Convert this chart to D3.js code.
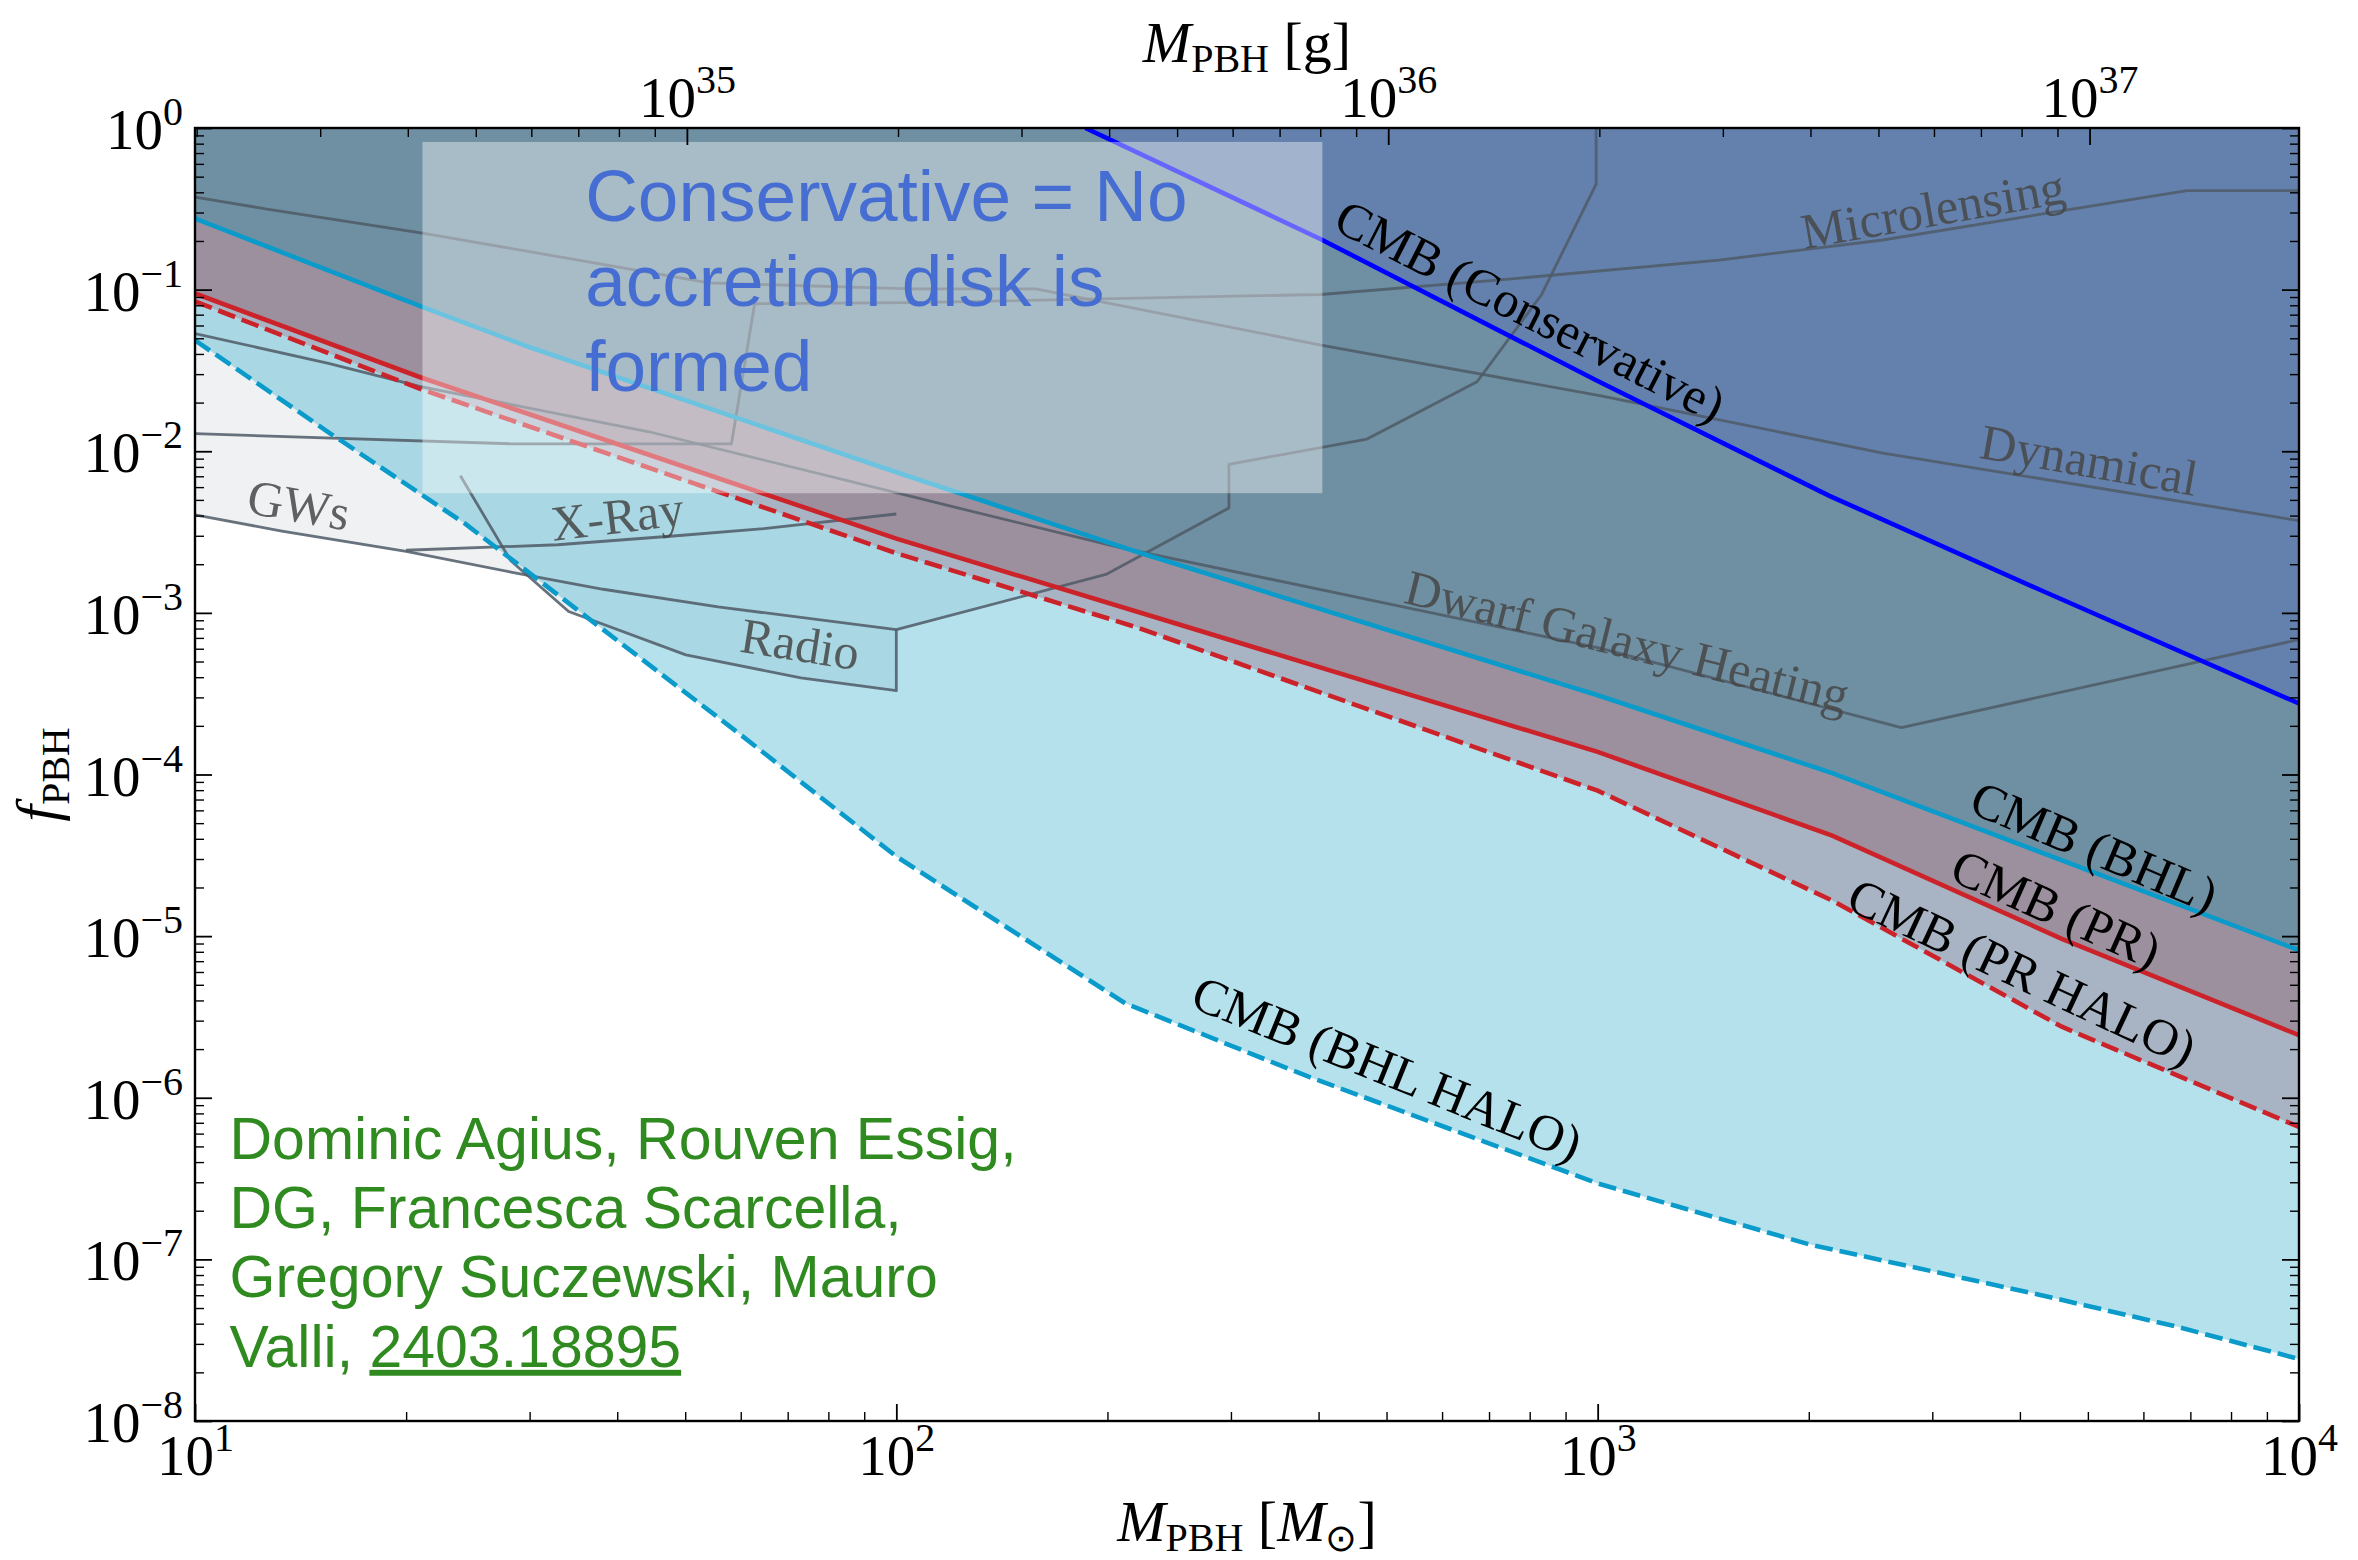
<!DOCTYPE html>
<html><head><meta charset="utf-8">
<script src="https://cdn.jsdelivr.net/npm/d3@7"></script>
<style>
html,body{margin:0;padding:0;background:#fff;}
svg{display:block;}
</style></head>
<body>
<svg id="chart" width="2358" height="1560"></svg>
<script>
// ---------------- DATA (M in solar masses, f_PBH) ----------------
const MSUN_G = 1.989e33;
const cmbBHL = [[10,0.275],[20.9,0.0794],[30,0.044],[100,0.00741],[220,0.00239],[1000,3.09e-4],[2160,1.02e-4],[1e4,8.17e-6]];
const cmbPR = [[10,0.0946],[20.9,0.0288],[100,0.00288],[220,0.00102],[1000,1.38e-4],[2160,4.19e-5],[4590,9.62e-6],[1e4,2.44e-6]];
const cmbPRHalo = [[10,0.0845],[20.9,0.0244],[100,0.00234],[220,8.15e-4],[1000,7.94e-5],[2160,1.66e-5],[4590,2.75e-6],[1e4,6.6e-7]];
const cmbBHLHalo = [[10,0.0486],[15.5,0.0131],[24.3,0.00355],[38.2,7.87e-4],[60.1,1.75e-4],[100,3.11e-5],[212,3.84e-6],[387,1.35e-6],[1000,2.95e-7],[2000,1.24e-7],[4260,6.05e-8],[6700,3.83e-8],[1e4,2.42e-8]];
const cmbConservative = [[186,1],[403,0.205],[1000,0.0272],[2140,0.0053],[4270,0.00139],[1e4,2.75e-4]];

const microlensing = [[10,0.01285],[28.2,0.01112],[58.2,0.01112],[62.8,0.0818],[105,0.083],[403,0.0933],[726,0.1148],[1490,0.1524],[2550,0.2028],[4375,0.2972],[6920,0.41],[1e4,0.41]];
const dynamical = [[10,0.374],[12.6,0.316],[21.1,0.224],[54.1,0.110],[105,0.101],[158,0.101],[403,0.0454],[1007,0.0221],[2550,0.00975],[1e4,0.00372]];
const dwarfHeating = [[10,0.0535],[15.5,0.035],[20.9,0.0252],[44.4,0.0132],[105,0.00525],[207,0.00255],[1007,6.05e-4],[2710,1.95e-4],[1e4,6.84e-4]];
const gwBound = [[10,0.00404],[13.3,0.00321],[20,0.0024],[28.2,0.00179],[38.2,0.0014],[55.7,0.00109],[100,7.87e-4],[199,0.00173],[298,0.00446],[298,0.0083],[469,0.0119],[673,0.0269],[832,0.0933],[995,0.449],[995,1]];
const xrayBound = [[20,0.00244],[32.9,0.00264],[48.6,0.003],[64.7,0.00332],[100,0.00409]];
const radioBound = [[23.9,0.00705],[28.2,0.0021],[34.1,0.00102],[50.1,5.5e-4],[73.1,3.96e-4],[100,3.3e-4],[100,7.87e-4]];

// ticks
const xMajor = [10,100,1000,10000];
const xMajorExp = ["1","2","3","4"];
const yMajor = [1e-8,1e-7,1e-6,1e-5,1e-4,1e-3,1e-2,1e-1,1];
const yMajorExp = ["−8","−7","−6","−5","−4","−3","−2","−1","0"];
const gMajor = [1e35,1e36,1e37];
const gMajorExp = ["35","36","37"];

// annotations (data coordinates)
const cmbLabels = [
  {t:"CMB (Conservative)", at:[801,0.0737], rot:27},
  {t:"CMB (BHL)", at:[5105,3.56e-5], rot:23},
  {t:"CMB (PR)", at:[4504,1.47e-5], rot:24},
  {t:"CMB (PR HALO)", at:[4027,5.98e-6], rot:25},
  {t:"CMB (BHL HALO)", at:[501,1.52e-6], rot:22}
];
const grayLabels = [
  {t:"Microlensing", at:[3006,0.315], rot:-10},
  {t:"Dynamical", at:[5020,0.00882], rot:10},
  {t:"Dwarf Galaxy Heating", at:[1102,6.7e-4], rot:14},
  {t:"GWs", at:[14.06,0.00465], rot:10},
  {t:"X-Ray", at:[40,0.00397], rot:-7},
  {t:"Radio", at:[72.9,6.41e-4], rot:9}
];
const boxLines = ["Conservative = No","accretion disk is","formed"];
const boxExtent = {m:[21.1,405], f:[0.0055,0.82]};
const boxTextAt = [36,0.266];
const creditLines = ["Dominic Agius, Rouven Essig,","DG, Francesca Scarcella,","Gregory Suczewski, Mauro"];
const creditLast = ["Valli, ","2403.18895"];
const creditAt = [11.2,4.2e-7];

// ---------------- LAYOUT ----------------
const L=195, R=2299, T=128, B=1421;
const svg = d3.select("#chart");
const x = d3.scaleLog().domain([10,1e4]).range([L,R]);
const y = d3.scaleLog().domain([1e-8,1]).range([B,T]);
const xg = d3.scaleLog().domain([10*MSUN_G,1e4*MSUN_G]).range([L,R]);
const line = d3.line().x(d=>x(d[0])).y(d=>y(d[1]));
const above = pts => line(pts.concat([[pts[pts.length-1][0],1],[pts[0][0],1]])) + "Z";

const SERIF = "'Liberation Serif','Times New Roman',serif";
const SANS = "'Liberation Sans',Arial,Helvetica,sans-serif";

svg.append("defs").append("clipPath").attr("id","clip")
  .append("rect").attr("x",L).attr("y",T).attr("width",R-L).attr("height",B-T);
const plot = svg.append("g").attr("clip-path","url(#clip)");

// fills
plot.append("path").attr("d", above(gwBound)).attr("fill","#eff1f3");
plot.append("path").attr("d", line(radioBound)+"Z").attr("fill","#eff1f3");
plot.append("path").attr("d", above(cmbBHLHalo)).attr("fill","rgb(0,150,190)").attr("fill-opacity",0.29);
plot.append("path").attr("d", above(cmbPRHalo)).attr("fill","#a8b4c3");
plot.append("path").attr("d", above(cmbPR)).attr("fill","#9d909e");
plot.append("path").attr("d", above(cmbBHL)).attr("fill","#6f8fa2");
plot.append("path").attr("d", above(cmbConservative)).attr("fill","#6381ac");

// gray constraint lines
[microlensing, dynamical, dwarfHeating, gwBound, xrayBound, radioBound].forEach(p=>{
  plot.append("path").attr("d", line(p)).attr("fill","none")
    .attr("stroke","#4f5a66").attr("stroke-opacity",0.85).attr("stroke-width",2.8)
    .attr("stroke-linejoin","round");
});

// CMB lines
const lw = 4.6;
plot.append("path").attr("d", line(cmbBHLHalo)).attr("fill","none").attr("stroke","#0a9bca").attr("stroke-width",lw).attr("stroke-dasharray","18,7");
plot.append("path").attr("d", line(cmbPRHalo)).attr("fill","none").attr("stroke","#cc2229").attr("stroke-width",lw).attr("stroke-dasharray","18,7");
plot.append("path").attr("d", line(cmbPR)).attr("fill","none").attr("stroke","#cc2229").attr("stroke-width",lw);
plot.append("path").attr("d", line(cmbBHL)).attr("fill","none").attr("stroke","#0a9bca").attr("stroke-width",lw);
plot.append("path").attr("d", line(cmbConservative)).attr("fill","none").attr("stroke","#0000ff").attr("stroke-width",lw);

// translucent box
plot.append("rect")
  .attr("x", x(boxExtent.m[0])).attr("y", y(boxExtent.f[1]))
  .attr("width", x(boxExtent.m[1])-x(boxExtent.m[0]))
  .attr("height", y(boxExtent.f[0])-y(boxExtent.f[1]))
  .attr("fill","#fff").attr("fill-opacity",0.4);
const bt = svg.append("text").attr("font-family",SANS).attr("font-size",73).attr("fill","#456dd2");
boxLines.forEach((s,i)=>{
  bt.append("tspan").attr("x", x(boxTextAt[0])).attr("y", y(boxTextAt[1]) + i*85).text(s);
});

// CMB labels
cmbLabels.forEach(l=>{
  svg.append("text")
    .attr("transform",`translate(${x(l.at[0])},${y(l.at[1])}) rotate(${l.rot})`)
    .attr("text-anchor","middle").attr("dominant-baseline","central")
    .attr("font-family",SERIF).attr("font-size",51).attr("fill","#000").text(l.t);
});
grayLabels.forEach(l=>{
  svg.append("text")
    .attr("transform",`translate(${x(l.at[0])},${y(l.at[1])}) rotate(${l.rot})`)
    .attr("text-anchor","middle").attr("dominant-baseline","central")
    .attr("font-family",SERIF).attr("font-size",50).attr("fill","#474747").attr("fill-opacity",0.85).text(l.t);
});

// credits
const ct = svg.append("text").attr("font-family",SANS).attr("font-size",59).attr("fill","#2f8a1f");
creditLines.forEach((s,i)=>{
  ct.append("tspan").attr("x", x(creditAt[0])).attr("y", y(creditAt[1]) + i*69.4).text(s);
});
const last = ct.append("tspan").attr("x", x(creditAt[0])).attr("y", y(creditAt[1]) + 3*69.4);
last.text(creditLast[0]);
ct.append("tspan").attr("text-decoration","underline").text(creditLast[1]);

// ---------------- AXES ----------------
function minorTicks(lo, hi){
  const out=[];
  for(let e=Math.floor(Math.log10(lo)); e<=Math.ceil(Math.log10(hi)); e++){
    for(let k=2;k<=9;k++){ const v=k*Math.pow(10,e); if(v>lo*1.0001 && v<hi*0.9999) out.push(v); }
  }
  return out;
}
function styleAxis(g, w){
  g.select(".domain").remove();
  g.selectAll(".tick line").attr("stroke","#000").attr("stroke-width",w);
  g.attr("font-family",SERIF).attr("font-size",57);
  g.selectAll(".tick text").attr("fill","#000");
}
function supLabels(g, exps){
  g.selectAll(".tick text").each(function(d,i){
    const t=d3.select(this); t.text(null);
    t.append("tspan").text("10");
    t.append("tspan").attr("dy",-24).attr("font-size",40).text(exps[i]);
  });
}
// bottom
let g = svg.append("g").attr("transform",`translate(0,${B})`)
  .call(d3.axisBottom(x).tickValues(xMajor).tickSize(-17).tickPadding(14).tickFormat(()=>"x"));
styleAxis(g,1.8); supLabels(g,xMajorExp);
g = svg.append("g").attr("transform",`translate(0,${B})`)
  .call(d3.axisBottom(x).tickValues(minorTicks(10,1e4)).tickSize(-9).tickFormat(()=>""));
styleAxis(g,1.4);
// left
g = svg.append("g").attr("transform",`translate(${L},0)`)
  .call(d3.axisLeft(y).tickValues(yMajor).tickSize(-17).tickPadding(12).tickFormat(()=>"x"));
styleAxis(g,1.8); supLabels(g,yMajorExp);
g.selectAll(".tick text").attr("dy","0.36em");
g = svg.append("g").attr("transform",`translate(${L},0)`)
  .call(d3.axisLeft(y).tickValues(minorTicks(1e-8,1)).tickSize(-9).tickFormat(()=>""));
styleAxis(g,1.4);
// right
g = svg.append("g").attr("transform",`translate(${R},0)`)
  .call(d3.axisRight(y).tickValues(yMajor).tickSize(-17).tickFormat(()=>""));
styleAxis(g,1.8);
g = svg.append("g").attr("transform",`translate(${R},0)`)
  .call(d3.axisRight(y).tickValues(minorTicks(1e-8,1)).tickSize(-9).tickFormat(()=>""));
styleAxis(g,1.4);
// top (grams)
g = svg.append("g").attr("transform",`translate(0,${T})`)
  .call(d3.axisTop(xg).tickValues(gMajor).tickSize(-17).tickPadding(11).tickFormat(()=>"x"));
styleAxis(g,1.8); supLabels(g,gMajorExp);
g = svg.append("g").attr("transform",`translate(0,${T})`)
  .call(d3.axisTop(xg).tickValues(minorTicks(10*MSUN_G,1e4*MSUN_G)).tickSize(-9).tickFormat(()=>""));
styleAxis(g,1.4);

// frame
svg.append("rect").attr("x",L).attr("y",T).attr("width",R-L).attr("height",B-T)
  .attr("fill","none").attr("stroke","#000").attr("stroke-width",2.4);

// axis labels
const cx = (L+R)/2;
let t = svg.append("text").attr("x",cx).attr("y",1541).attr("text-anchor","middle")
  .attr("font-family",SERIF).attr("font-size",58).attr("fill","#000");
t.append("tspan").attr("font-style","italic").text("M");
t.append("tspan").attr("font-size",40).attr("dy",10).text("PBH");
t.append("tspan").attr("dy",-10).text(" [");
t.append("tspan").attr("font-style","italic").text("M");
t.append("tspan").attr("font-size",38).attr("dy",10).text("⊙");
t.append("tspan").attr("dy",-10).text("]");

t = svg.append("text").attr("x",cx).attr("y",62).attr("text-anchor","middle")
  .attr("font-family",SERIF).attr("font-size",58).attr("fill","#000");
t.append("tspan").attr("font-style","italic").text("M");
t.append("tspan").attr("font-size",40).attr("dy",10).text("PBH");
t.append("tspan").attr("dy",-10).text(" [g]");

t = svg.append("text").attr("transform",`translate(57,${(T+B)/2}) rotate(-90)`).attr("text-anchor","middle")
  .attr("font-family",SERIF).attr("font-size",60).attr("fill","#000");
t.append("tspan").attr("font-style","italic").text("f");
t.append("tspan").attr("font-size",40).attr("dy",12).text("PBH");
</script>
</body></html>
